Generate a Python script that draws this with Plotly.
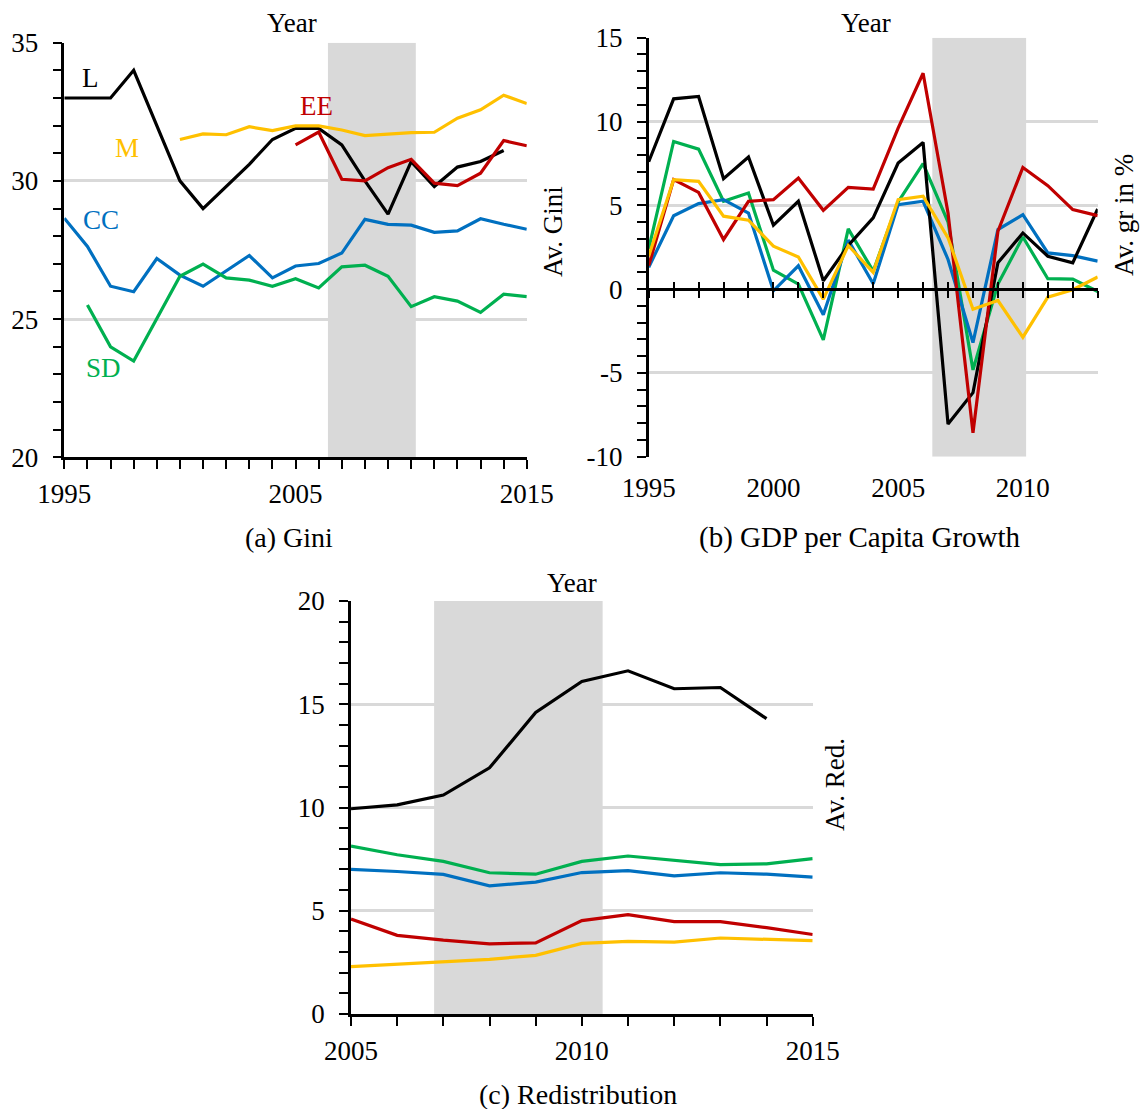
import plotly.graph_objects as go

# ---------------- data ----------------
# (a) Gini
years_a = list(range(1995, 2016))
gini_L = [33.0, 33.0, 33.0, 34.0, 32.0, 30.0, 29.0, 29.8, 30.6, 31.5, 31.9, 31.9, 31.3, 30.0, 28.8, 30.7, 29.8, 30.5, 30.7, 31.1, None]
gini_M = [None, None, None, None, None, 31.5, 31.7, 31.67, 31.96, 31.82, 31.99, 31.99, 31.84, 31.64, 31.69, 31.75, 31.76, 32.27, 32.57, 33.1, 32.8]
gini_EE = [None] * 10 + [31.3, 31.77, 30.06, 30.0, 30.48, 30.78, 29.92, 29.83, 30.28, 31.46, 31.27]
gini_CC = [28.65, 27.63, 26.19, 25.99, 27.19, 26.59, 26.19, 26.75, 27.3, 26.49, 26.92, 27.01, 27.39, 28.61, 28.43, 28.4, 28.14, 28.19, 28.63, 28.43, 28.25]
gini_SD = [None, 25.51, 24.0, 23.48, 25.0, 26.55, 26.99, 26.49, 26.41, 26.19, 26.46, 26.13, 26.89, 26.95, 26.55, 25.45, 25.81, 25.65, 25.24, 25.9, 25.81]

# (b) GDP per capita growth
years_b = list(range(1995, 2014))
gdp_L = [7.6, 11.35, 11.49, 6.59, 7.88, 3.81, 5.24, 0.5, 2.6, 4.25, 7.52, 8.75, -8.05, -6.18, 1.57, 3.35, 1.96, 1.57, 4.78]
gdp_EE = [1.4, 6.53, 5.77, 2.96, 5.24, 5.34, 6.63, 4.70, 6.07, 5.97, 9.6, 12.88, 4.54, -8.57, 3.45, 7.26, 6.17, 4.74, 4.38]
gdp_SD = [2.4, 8.81, 8.35, 5.24, 5.73, 1.13, 0.3, -3.03, 3.59, 1.07, 5.2, 7.48, 4.0, -4.82, 0.3, 3.11, 0.62, 0.6, -0.14]
gdp_CC = [1.3, 4.38, 5.1, 5.34, 4.54, -0.1, 1.39, -1.53, 2.92, 0.32, 5.04, 5.24, 1.77, -3.19, 3.55, 4.44, 2.16, 2.0, 1.67]
gdp_M = [1.96, 6.53, 6.43, 4.35, 4.11, 2.56, 1.92, -0.6, 2.6, 1.0, 5.34, 5.54, 3.06, -1.2, -0.68, -2.87, -0.48, -0.04, 0.72]

# (c) Redistribution
years_c = list(range(2005, 2016))
red_L = [9.94, 10.13, 10.6, 11.92, 14.6, 16.1, 16.62, 15.75, 15.81, 14.3, None]
red_SD = [8.13, 7.71, 7.39, 6.84, 6.77, 7.39, 7.65, 7.45, 7.23, 7.27, 7.52]
red_CC = [7.0, 6.9, 6.76, 6.21, 6.39, 6.85, 6.94, 6.69, 6.84, 6.77, 6.63]
red_EE = [4.6, 3.81, 3.58, 3.4, 3.44, 4.52, 4.81, 4.47, 4.47, 4.18, 3.85]
red_M = [2.29, 2.42, 2.55, 2.65, 2.84, 3.42, 3.52, 3.48, 3.68, 3.61, 3.55]

# crisis shading (years) and axis ranges
shade_a = [2006.4, 2010.2]
shade_b = [2006.37, 2010.13]
shade_c = [2006.8, 2010.45]
yrange_a = [20, 35]
yrange_b = [-10, 15]
yrange_c = [0, 20]
yticks_b = [-10, -5, 0, 5, 10, 15]
yticklabels_b = ["-10", "-5", "0", "5", "10", "15"]

# series labels in panel (a): name, year, value
labels_a = [("L", 1996.15, 33.72), ("EE", 2005.9, 32.71), ("M", 1997.7, 31.19),
            ("CC", 1996.6, 28.58), ("SD", 1996.7, 23.23)]

COL = {"L": "#000000", "EE": "#C00000", "M": "#FFC000", "CC": "#0070C0", "SD": "#00B050"}
FONT = "Liberation Serif"
W, H = 1141, 1109
SHADE = "#d9d9d9"

fig = go.Figure()

def shade(s, yr, xa, ya):
    fig.add_trace(go.Scatter(x=[s[0], s[0], s[1], s[1], s[0]], y=[yr[0], yr[1], yr[1], yr[0], yr[0]],
                             mode="lines", fill="toself", fillcolor=SHADE, line=dict(width=0),
                             xaxis=xa, yaxis=ya, showlegend=False, hoverinfo="skip"))

def add(x, y, col, xa, ya):
    fig.add_trace(go.Scatter(x=x, y=y, mode="lines", line=dict(color=col, width=3.2),
                             xaxis=xa, yaxis=ya, showlegend=False, hoverinfo="skip",
                             connectgaps=False))

# panel a
shade(shade_a, yrange_a, "x", "y")
add(years_a, gini_L, COL["L"], "x", "y")
add(years_a, gini_M, COL["M"], "x", "y")
add(years_a, gini_EE, COL["EE"], "x", "y")
add(years_a, gini_CC, COL["CC"], "x", "y")
add(years_a, gini_SD, COL["SD"], "x", "y")
# panel b
shade(shade_b, yrange_b, "x2", "y2")
add(years_b, gdp_SD, COL["SD"], "x2", "y2")
add(years_b, gdp_CC, COL["CC"], "x2", "y2")
add(years_b, gdp_L, COL["L"], "x2", "y2")
add(years_b, gdp_EE, COL["EE"], "x2", "y2")
add(years_b, gdp_M, COL["M"], "x2", "y2")
# panel c
shade(shade_c, yrange_c, "x3", "y3")
add(years_c, red_L, COL["L"], "x3", "y3")
add(years_c, red_SD, COL["SD"], "x3", "y3")
add(years_c, red_CC, COL["CC"], "x3", "y3")
add(years_c, red_EE, COL["EE"], "x3", "y3")
add(years_c, red_M, COL["M"], "x3", "y3")
# dummy traces to attach the zero-line axes of panel b
for xa in ("x4", "x5"):
    fig.add_trace(go.Scatter(x=[years_b[0]], y=[0], mode="markers", marker=dict(opacity=0),
                             xaxis=xa, yaxis="y2", showlegend=False, hoverinfo="skip"))

def px(x, y):
    return x / W, 1 - y / H

dom = {
    "a": ([64.3 / W, 526.8 / W], [1 - 457.3 / H, 1 - 42.7 / H]),
    "b": ([648.7 / W, 1097.7 / W], [1 - 456.7 / H, 1 - 37.7 / H]),
    "c": ([351 / W, 812.7 / W], [1 - 1014 / H, 1 - 601 / H]),
}

tickfont = dict(family=FONT, size=27, color="black")
minor_t = dict(dtick=1, ticks="outside", ticklen=9, tickwidth=2, tickcolor="black", showgrid=False)

def yax(domain, rng, anchor):
    return dict(domain=domain, range=rng, anchor=anchor, dtick=5, tick0=0,
                ticks="outside", ticklen=9, tickwidth=2, tickcolor="black",
                showline=True, linecolor="black", linewidth=2.5,
                showgrid=True, gridcolor="#d9d9d9", gridwidth=2.5,
                zeroline=False, tickfont=tickfont, ticklabelstandoff=9,
                minor=minor_t, fixedrange=True, layer="above traces", automargin=False)

def xax(domain, rng, anchor, dtick, tick0):
    return dict(domain=domain, range=rng, anchor=anchor, dtick=dtick, tick0=tick0,
                ticks="outside", ticklen=9, tickwidth=2, tickcolor="black",
                showline=True, linecolor="black", linewidth=2.5,
                showgrid=False, zeroline=False, tickfont=tickfont, ticklabelstandoff=2,
                minor=minor_t, fixedrange=True, layer="above traces", automargin=False)

zero_pos = dom["b"][1][0] + (10 / 25) * (dom["b"][1][1] - dom["b"][1][0])

yb = yax(dom["b"][1], yrange_b, "x2")
yb.update(tickmode="array", tickvals=yticks_b, ticktext=yticklabels_b)
yb["minor"] = dict(minor_t, tickmode="linear", tick0=0)

fig.update_layout(
    width=W, height=H, margin=dict(l=0, r=0, t=0, b=0, autoexpand=False),
    plot_bgcolor="white", paper_bgcolor="white",
    xaxis=xax(dom["a"][0], [1995, 2015], "y", 10, 1995),
    yaxis=yax(dom["a"][1], yrange_a, "x"),
    xaxis2=dict(domain=dom["b"][0], range=[1995, 2013], anchor="y2", dtick=5, tick0=1995,
                ticks="", showline=False, showgrid=False, zeroline=False,
                tickfont=tickfont, ticklabelstandoff=12, fixedrange=True, automargin=False),
    yaxis2=yb,
    xaxis4=dict(overlaying="x2", range=[1995, 2013], anchor="free", position=zero_pos,
                dtick=1, tick0=1995, ticks="outside", ticklen=7, tickwidth=2, tickcolor="black",
                showline=True, linecolor="black", linewidth=2.5, showticklabels=False,
                showgrid=False, zeroline=False, fixedrange=True, automargin=False),
    xaxis5=dict(overlaying="x2", range=[1995, 2013], anchor="free", position=zero_pos,
                dtick=1, tick0=1995, ticks="inside", ticklen=7, tickwidth=2, tickcolor="black",
                showline=False, showticklabels=False,
                showgrid=False, zeroline=False, fixedrange=True, automargin=False),
    xaxis3=xax(dom["c"][0], [2005, 2015], "y3", 5, 2005),
    yaxis3=yax(dom["c"][1], yrange_c, "x3"),
)

# series labels (a)
for name, xv, yv in labels_a:
    fig.add_annotation(x=xv, y=yv, xref="x", yref="y", text=name, showarrow=False,
                       font=dict(family=FONT, size=27, color=COL[name]))

def txt(x, y, s, size=27, angle=0):
    fx, fy = px(x, y)
    fig.add_annotation(x=fx, y=fy, xref="paper", yref="paper", text=s, showarrow=False,
                       textangle=angle, xanchor="center", yanchor="middle",
                       font=dict(family=FONT, size=size, color="black"))

# "Year" titles
txt(292, 23, "Year")
txt(866, 23, "Year")
txt(572, 583, "Year")
# y-axis titles
txt(553, 232, "Av. Gini", angle=-90)
txt(1124, 215, "Av. gr in %", angle=-90)
txt(835, 785, "Av. Red.", angle=-90)
# captions
txt(289, 537, "(a) Gini", size=28)
txt(860, 537, "(b) GDP per Capita Growth", size=29)
txt(578, 1094, "(c) Redistribution", size=28)

fig.write_html("out.html")
